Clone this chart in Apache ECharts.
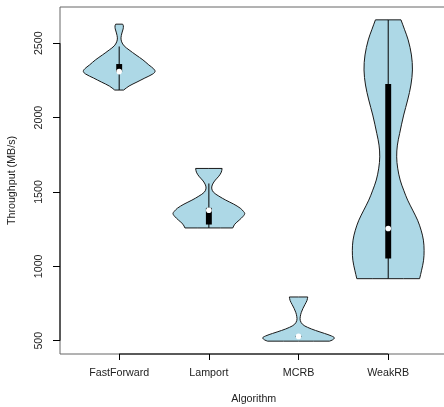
<!DOCTYPE html>
<html>
<head>
<meta charset="utf-8">
<script src="https://cdn.jsdelivr.net/npm/echarts@6/dist/echarts.min.js"></script>
<style>
  html, body { margin: 0; padding: 0; background: #fff; }
  #chart { width: 444px; height: 407px; }
</style>
</head>
<body>
<div id="chart"></div>
<script>
// Algorithms along the x axis
const categories = ['FastForward', 'Lamport', 'MCRB', 'WeakRB'];

// Kernel density outlines: throughput levels (MB/s, top to bottom) and the
// relative density at each level (1 = widest point of that violin)
const ffLevels  = [2628, 2617, 2596, 2569, 2536, 2509, 2482, 2455, 2421, 2388, 2354, 2327, 2310, 2293, 2266, 2239, 2212, 2185];
const ffDensity = [0.096, 0.116, 0.110, 0.077, 0.050, 0.069, 0.138, 0.275, 0.468, 0.661, 0.826, 0.964, 1.000, 0.937, 0.716, 0.496, 0.275, 0.124];

const lpLevels  = [1658, 1633, 1606, 1580, 1553, 1526, 1499, 1472, 1445, 1418, 1391, 1371, 1355, 1337, 1310, 1283, 1258];
const lpDensity = [0.369, 0.347, 0.278, 0.181, 0.106, 0.078, 0.125, 0.278, 0.472, 0.694, 0.875, 0.958, 1.000, 0.958, 0.844, 0.722, 0.667];

const mcLevels  = [794, 771, 744, 718, 691, 664, 637, 610, 590, 569, 549, 532, 519, 505, 497];
const mcDensity = [0.256, 0.236, 0.181, 0.125, 0.078, 0.050, 0.047, 0.111, 0.250, 0.472, 0.722, 0.917, 1.000, 0.944, 0.861];

const wrLevels  = [2657, 2590, 2522, 2421, 2320, 2219, 2118, 2017, 1894, 1815, 1736, 1660, 1580, 1512, 1445, 1378, 1310, 1243, 1176, 1108, 1041, 974, 917];
const wrDensity = [0.356, 0.458, 0.556, 0.647, 0.675, 0.633, 0.542, 0.431, 0.319, 0.256, 0.236, 0.264, 0.333, 0.431, 0.542, 0.681, 0.819, 0.917, 0.981, 1.000, 0.986, 0.931, 0.875];

// Box-plot summary per algorithm
const minValues    = [2185, 1258, 497, 917];
const q1Values     = [2305, 1281, 524, 1052];
const medianValues = [2309, 1377, 529, 1254];
const q3Values     = [2360, 1393, 533, 2226];
const lowerWhisker = [2185, 1258, 520, 917];
const upperWhisker = [2478, 1557, 537, 2657];
const maxValues    = [2628, 1658, 794, 2657];

// Axis ticks
const yTicks = [500, 1000, 1500, 2000, 2500];
const xTicks = [1, 2, 3, 4];

const levelSets   = [ffLevels, lpLevels, mcLevels, wrLevels];
const densitySets = [ffDensity, lpDensity, mcDensity, wrDensity];

// Axis ranges padded by 4% like base R graphics
const dataLo = Math.min(...minValues);
const dataHi = Math.max(...maxValues);
const yPad = (dataHi - dataLo) * 0.04;
const yMin = dataLo - yPad;
const yMax = dataHi + yPad;
const xPad = (categories.length) * 0.04;
const xMin = 0.5 - xPad;
const xMax = categories.length + 0.5 + xPad;

const HALF_WIDTH = 0.4;   // widest half-width of a violin, in x units
const BOX_WIDTH = 0.066;  // width of the interquartile bar
const FONT = 'Liberation Sans, Arial, Helvetica, sans-serif';
const TEXT = '#222';
const FS = 10.7;

function renderViolin(params, api) {
  const i = params.dataIndex;
  const cx = i + 1;
  const levels = levelSets[i];
  const dens = densitySets[i];
  const left = [], right = [];
  for (let k = 0; k < levels.length; k++) {
    left.push(api.coord([cx - dens[k] * HALF_WIDTH, levels[k]]));
    right.push(api.coord([cx + dens[k] * HALF_WIDTH, levels[k]]));
  }
  // repeat the end points so the flat top and bottom edges keep sharp corners
  const pts = [left[0]].concat(left, [left[left.length - 1]],
    [right[right.length - 1]], right.slice().reverse(), [right[0]]);

  const whiskTop = api.coord([cx, upperWhisker[i]]);
  const whiskBot = api.coord([cx, lowerWhisker[i]]);
  const boxTL = api.coord([cx - BOX_WIDTH / 2, q3Values[i]]);
  const boxBR = api.coord([cx + BOX_WIDTH / 2, q1Values[i]]);
  const med = api.coord([cx, medianValues[i]]);

  return {
    type: 'group',
    children: [
      {
        type: 'polygon',
        shape: { points: pts, smooth: 0.35 },
        style: { fill: '#ADD8E6', stroke: '#1a1a1a', lineWidth: 1 }
      },
      {
        type: 'line',
        shape: { x1: whiskTop[0], y1: whiskTop[1], x2: whiskBot[0], y2: whiskBot[1] },
        style: { stroke: '#000', lineWidth: 1 }
      },
      {
        type: 'rect',
        shape: { x: boxTL[0], y: boxTL[1], width: boxBR[0] - boxTL[0], height: boxBR[1] - boxTL[1] },
        style: { fill: '#000' }
      },
      {
        type: 'circle',
        shape: { cx: med[0], cy: med[1], r: 2.8 },
        style: { fill: '#fff' }
      }
    ]
  };
}

// Black axis lines spanning the first to last tick, over the frame
function renderAxisLines(params, api) {
  const a = api.coord([xMin, yTicks[0]]);
  const b = api.coord([xMin, yTicks[yTicks.length - 1]]);
  const c = api.coord([xTicks[0], yMin]);
  const d = api.coord([xTicks[xTicks.length - 1], yMin]);
  return {
    type: 'group',
    children: [
      { type: 'line', shape: { x1: a[0], y1: a[1], x2: b[0], y2: b[1] }, style: { stroke: '#000', lineWidth: 1 } },
      { type: 'line', shape: { x1: c[0], y1: c[1], x2: d[0], y2: d[1] }, style: { stroke: '#000', lineWidth: 1 } }
    ]
  };
}

const chart = echarts.init(document.getElementById('chart'), null, { renderer: 'canvas' });

chart.setOption({
  animation: false,
  backgroundColor: '#fff',
  grid: {
    left: 60, right: -3.4, top: 7, bottom: 53,
    show: true, borderColor: '#666', borderWidth: 1,
    outerBoundsMode: 'none', containLabel: false
  },
  xAxis: {
    type: 'value', min: xMin, max: xMax,
    axisLine: { show: false },
    splitLine: { show: false },
    axisTick: { show: true, customValues: xTicks, length: 6, lineStyle: { color: '#000' } },
    axisLabel: {
      customValues: xTicks, margin: 14,
      formatter: v => categories[Math.round(v) - 1],
      fontSize: FS, color: TEXT, fontFamily: FONT
    },
    name: 'Algorithm', nameLocation: 'middle', nameGap: 40,
    nameTextStyle: { fontSize: FS, color: TEXT, fontFamily: FONT }
  },
  yAxis: {
    type: 'value', min: yMin, max: yMax,
    axisLine: { show: false },
    splitLine: { show: false },
    axisTick: { show: true, customValues: yTicks, length: 7, lineStyle: { color: '#000' } },
    axisLabel: {
      customValues: yTicks, rotate: 90, margin: 15,
      formatter: v => String(Math.round(v)),
      fontSize: FS, color: TEXT, fontFamily: FONT
    },
    name: 'Throughput (MB/s)', nameLocation: 'middle', nameGap: 42,
    nameTextStyle: { fontSize: FS, color: TEXT, fontFamily: FONT }
  },
  series: [
    {
      type: 'custom',
      renderItem: renderViolin,
      data: categories.map((c, i) => [i + 1, medianValues[i]]),
      clip: false,
      silent: true
    },
    {
      type: 'custom',
      renderItem: renderAxisLines,
      data: [[xMin, yMin]],
      clip: false,
      silent: true
    }
  ]
});
</script>
</body>
</html>
